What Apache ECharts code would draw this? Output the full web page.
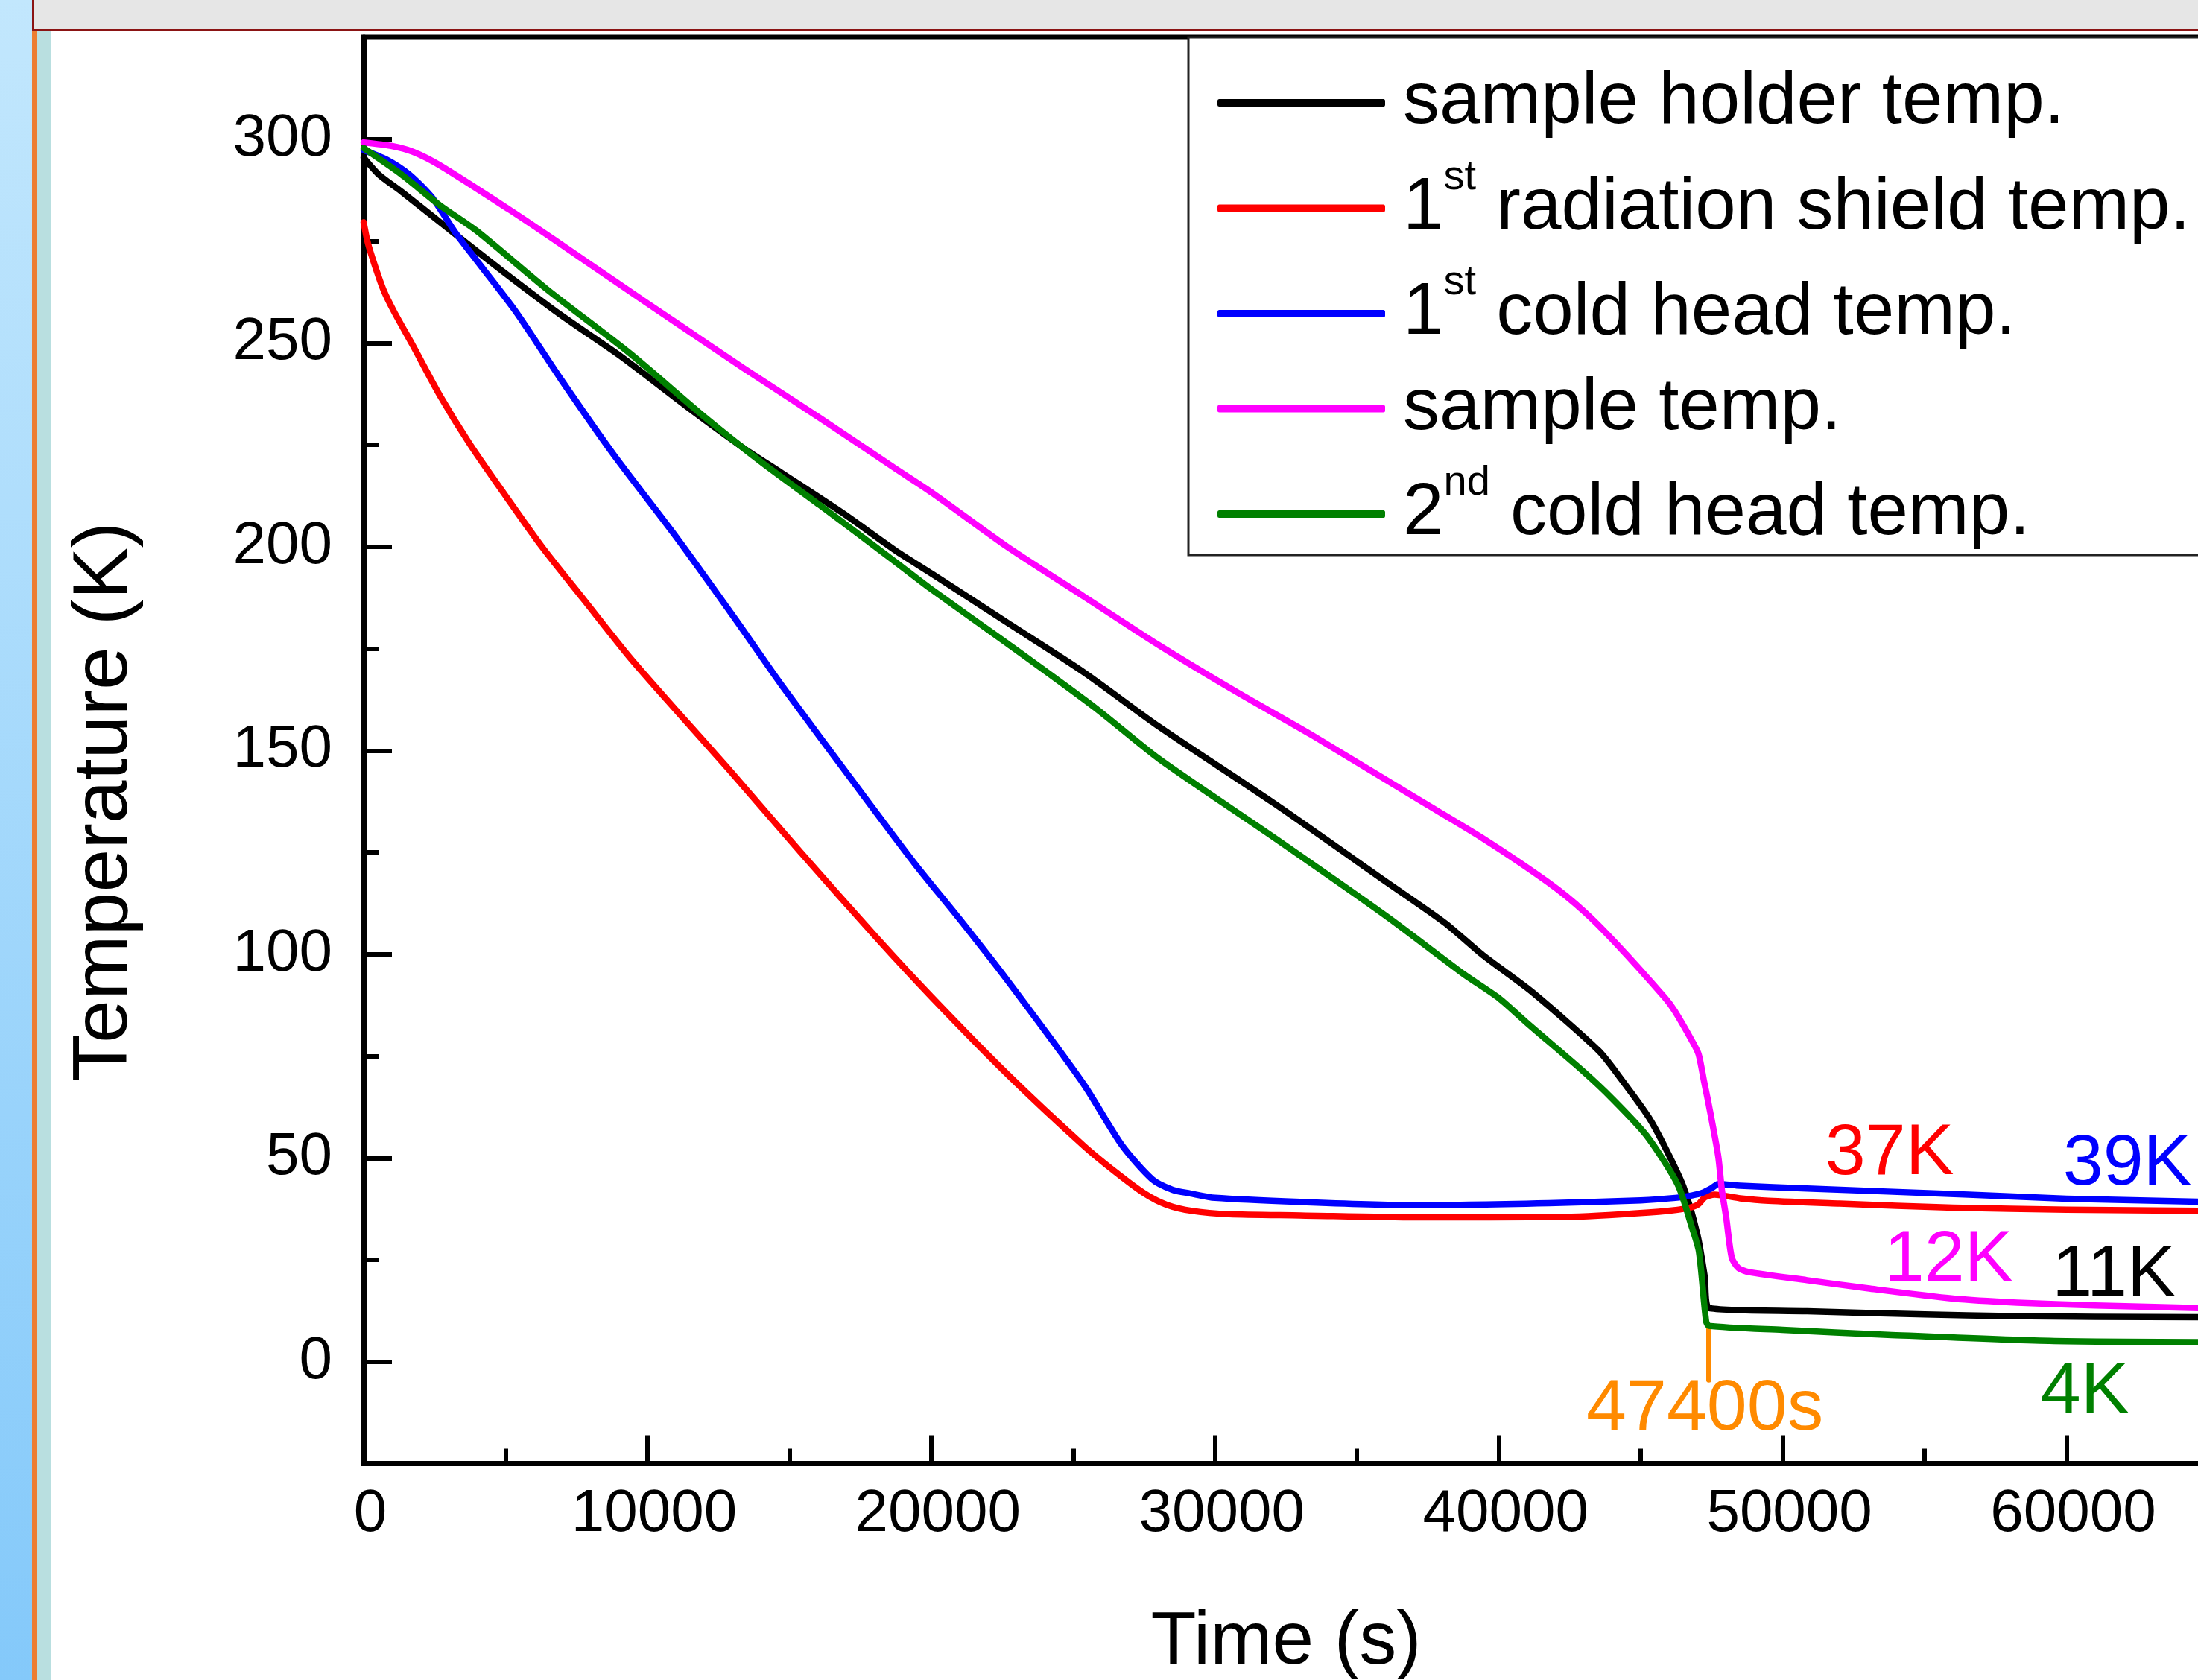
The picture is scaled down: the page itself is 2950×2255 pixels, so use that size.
<!DOCTYPE html>
<html>
<head>
<meta charset="utf-8">
<script src="https://cdn.jsdelivr.net/npm/echarts@6/dist/echarts.min.js"></script>
<style>
html,body{margin:0;padding:0;background:#ffffff;}
#chart{width:2950px;height:2255px;}
</style>
</head>
<body>
<div id="chart"></div>
<script>
const FONT = "'Liberation Sans', Arial, Helvetica, sans-serif";

// ---------- data ----------
const seriesNames = ['sample holder temp.', '1st radiation shield temp.', '1st cold head temp.', 'sample temp.', '2nd cold head temp.'];
const seriesColors = ['#000000', '#FF0000', '#0000FF', '#FF00FF', '#008000'];

const holderTime = [0, 536, 1340, 2950, 4820, 6960, 9100, 11380, 13390, 14730, 16870, 18750, 20013, 22690, 25370, 28050, 32060, 36080, 38090, 39430, 41175, 43519, 44315, 45277, 45900, 46500, 47000, 47250, 47400, 50859, 55000, 57970, 61000, 65000];
const holderTemp = [295.5, 291.3, 287.1, 278.2, 268, 256.8, 246.5, 234.4, 224.2, 218.1, 208.3, 199, 193.4, 181.3, 169.2, 155.7, 137.1, 117.5, 107.7, 99.8, 90.7, 76.3, 69.3, 60, 52, 43, 31, 21, 13.2, 12.4, 11.6, 11.2, 11.0, 10.9];

const shieldTime = [0, 150, 400, 700, 1070, 1740, 2680, 3750, 4950, 6290, 7770, 9370, 10980, 12850, 15400, 18080, 20013, 22690, 25370, 26500, 27510, 28300, 29200, 30500, 33000, 37073, 42323, 45277, 46591, 47000, 47269, 47600, 48500, 49500, 52000, 56000, 60000, 65000];
const shieldTemp = [279.6, 274.5, 268.9, 263.0, 257.7, 249.3, 237.2, 225.1, 213, 199.9, 186.9, 172.9, 160.1, 145.5, 125, 104, 89.5, 70.5, 53, 46.5, 41.3, 38.5, 37, 36.2, 35.9, 35.4, 35.5, 36.6, 37.6, 38.5, 40.4, 41, 40.1, 39.5, 38.8, 37.8, 37.3, 37];

const head1Time = [0, 800, 1610, 2410, 3210, 4020, 5360, 6960, 8840, 10980, 13120, 14730, 17410, 19420, 21000, 22690, 25370, 26710, 27780, 28500, 29120, 30000, 33000, 37073, 41761, 45000, 46215, 46800, 47152, 47500, 47729, 48500, 50859, 56549, 60000, 65000];
const head1Temp = [297.3, 295, 291.3, 285.7, 277.3, 269.9, 257.7, 241, 222.3, 202.7, 182, 166, 140.8, 122.2, 108.6, 93.5, 68.1, 53.2, 44.8, 42.2, 41.3, 40.2, 39.2, 38.4, 38.9, 39.6, 40.2, 40.8, 41.4, 42.6, 43.6, 43.2, 42.5, 41, 40, 39.2];

const sampleTime = [0, 1000, 1740, 2680, 5090, 6700, 8840, 11110, 13390, 16070, 18750, 20013, 22690, 25370, 28050, 30720, 33400, 37200, 39417, 41761, 43000, 44105, 45863, 46200, 46800, 47035, 47231, 47387, 47729, 47855, 48013, 48207, 48440, 48800, 50859, 53000, 56000, 58256, 61000, 65000];
const sampleTemp = [299.2, 298.3, 296.9, 293.6, 282.9, 275.4, 265.2, 254.5, 243.8, 231.6, 219.1, 213.3, 199.9, 187.8, 175.7, 164.5, 153.8, 137.8, 128.5, 117.5, 110.5, 102.8, 89.2, 86.0, 78.8, 75.5, 68.7, 63.4, 50.4, 42.2, 35.2, 25.5, 23, 22, 20, 18, 15.5, 14.5, 13.8, 13.1];

const head2Time = [0, 1340, 2680, 4020, 6430, 9370, 12050, 14060, 16070, 18750, 20013, 22690, 25770, 28050, 32060, 36080, 38760, 40003, 41010, 42933, 44000, 45200, 46300, 46800, 47050, 47300, 47400, 50000, 53704, 59393, 65000];
const head2Temp = [297.8, 291.3, 283.8, 277.3, 263.3, 247.5, 231.6, 220.5, 210.2, 196.2, 189.5, 176.2, 160.5, 147.8, 128.7, 109.1, 95.1, 89.2, 83.0, 71.5, 64.5, 55.5, 43.5, 33, 27, 10, 8.8, 7.8, 6.6, 5.1, 4.8];

const xTickLabels = [0, 10000, 20000, 30000, 40000, 50000, 60000];
const yTickLabels = [0, 50, 100, 150, 200, 250, 300];

// annotation texts (series index, text, time, temperature of label centre)
const annotations = [
  {s: 1, text: '37K', x: 53766, y: 50.9},
  {s: 2, text: '39K', x: 62139, y: 48.4},
  {s: 3, text: '12K', x: 55840, y: 24.7},
  {s: 0, text: '11K', x: 61667, y: 21.2},
  {s: 4, text: '4K', x: 60643, y: -7.6}
];
const switchTime = 47400;           // orange marker
const switchMarkerRange = [8.7, -4.5];
const switchLabel = {text: '47400s', x: 47257, y: -11.8};
const ORANGE = '#FF8A00';

// ---------- build ----------
const pairs = (t, k) => t.map((v, i) => [v, k[i]]);
const allData = [
  pairs(holderTime, holderTemp),
  pairs(shieldTime, shieldTemp),
  pairs(head1Time, head1Temp),
  pairs(sampleTime, sampleTemp),
  pairs(head2Time, head2Temp)
];

const series = allData.map((d, i) => {
  const s = {
    name: seriesNames[i],
    type: 'line',
    data: d,
    xAxisIndex: 0,
    yAxisIndex: 0,
    showSymbol: false,
    symbol: 'none',
    smooth: 0.25,
    color: seriesColors[i],
    lineStyle: {color: seriesColors[i], width: 8.5, cap: 'round', join: 'round'},
    z: 3 + i,
    silent: true
  };
  const ann = annotations.filter(a => a.s === i);
  const mpData = ann.map(a => ({
    coord: [a.x, a.y],
    label: {show: true, position: 'inside', formatter: a.text, color: seriesColors[i],
            fontSize: 97, fontFamily: FONT, textBorderWidth: 0}
  }));
  if (i === 4) {
    mpData.push({
      coord: [switchLabel.x, switchLabel.y],
      label: {show: true, position: 'inside', formatter: switchLabel.text, color: ORANGE,
              fontSize: 97, fontFamily: FONT, textBorderWidth: 0}
    });
    s.markLine = {
      silent: true,
      symbol: ['none', 'none'],
      label: {show: false},
      lineStyle: {color: ORANGE, width: 7, type: 'solid', cap: 'round'},
      data: [[{coord: [switchTime, switchMarkerRange[0]]}, {coord: [switchTime, switchMarkerRange[1]]}]]
    };
  }
  if (mpData.length) {
    s.markPoint = {
      silent: true,
      symbol: 'circle',
      symbolSize: 1,
      itemStyle: {color: 'rgba(0,0,0,0)'},
      data: mpData
    };
  }
  return s;
});

const plain = v => String(v);
const axisBase = {
  type: 'value',
  splitLine: {show: false},
  minorTick: {show: false}
};

const option = {
  animation: false,
  backgroundColor: '#ffffff',
  grid: {
    left: 488, top: 50, width: 2476, height: 1914.5,
    show: true, borderColor: '#000', borderWidth: 7, backgroundColor: 'transparent',
    containLabel: false,
    outerBoundsMode: 'none'
  },
  xAxis: [
    Object.assign({}, axisBase, {
      position: 'bottom', min: 0, max: 65000, interval: 5000,
      axisLine: {show: true, onZero: false, lineStyle: {color: '#000', width: 7}},
      axisTick: {show: true, inside: true, length: 20, lineStyle: {color: '#000', width: 6}},
      axisLabel: {show: true, customValues: xTickLabels, formatter: plain, fontSize: 80, fontFamily: FONT,
                  color: '#000', margin: 28, padding: [0, 0, 0, 18]},
      name: 'Time (s)', nameLocation: 'middle', nameGap: 191,
      nameTextStyle: {fontSize: 100, fontFamily: FONT, color: '#000'}
    }),
    Object.assign({}, axisBase, {
      position: 'bottom', min: 0, max: 65000, interval: 5000,
      axisLine: {show: false, onZero: false},
      axisTick: {show: true, inside: true, length: 38, customValues: xTickLabels, lineStyle: {color: '#000', width: 6}},
      axisLabel: {show: false}
    })
  ],
  yAxis: [
    Object.assign({}, axisBase, {
      position: 'left', min: -25, max: 325, interval: 25,
      axisLine: {show: true, onZero: false, lineStyle: {color: '#000', width: 7}},
      axisTick: {show: true, inside: true, length: 20, lineStyle: {color: '#000', width: 6}},
      axisLabel: {show: true, customValues: yTickLabels, formatter: plain, fontSize: 80, fontFamily: FONT,
                  color: '#000', margin: 42, padding: [0, 0, 6, 0]},
      name: 'Temperature (K)', nameLocation: 'middle', nameGap: 295,
      nameTextStyle: {fontSize: 104, fontFamily: FONT, color: '#000', padding: [0, 138, 0, 0]}
    }),
    Object.assign({}, axisBase, {
      position: 'left', min: -25, max: 325, interval: 25,
      axisLine: {show: false, onZero: false},
      axisTick: {show: true, inside: true, length: 38, customValues: yTickLabels, lineStyle: {color: '#000', width: 6}},
      axisLabel: {show: false}
    })
  ],
  legend: {
    show: true,
    data: seriesNames,
    orient: 'vertical',
    left: 1595, top: 50,
    padding: [33, 200, 0, 39],
    itemGap: 17.5,
    itemWidth: 225, itemHeight: 10,
    icon: 'roundRect',
    borderColor: '#222', borderWidth: 3, borderRadius: 0,
    backgroundColor: '#ffffff',
    selectedMode: false,
    formatter: name => name.replace(/^(\d)(st|nd)/, '$1{sup|$2}'),
    textStyle: {
      fontSize: 98, fontFamily: FONT, color: '#000', lineHeight: 110,
      padding: [0, 0, 0, 19],
      rich: {
        sup: {fontSize: 56, fontFamily: FONT, color: '#000', height: 28, verticalAlign: 'top'}
      }
    }
  },
  graphic: [
    {type: 'rect', silent: true, z: 100, shape: {x: 0, y: 0, width: 43, height: 2255},
     style: {fill: new echarts.graphic.LinearGradient(0, 0, 0, 1, [{offset: 0, color: '#C2E7FD'}, {offset: 1, color: '#84C9FA'}])}},
    {type: 'rect', silent: true, z: 100, shape: {x: 45, y: 0, width: 2905, height: 39}, style: {fill: '#E6E6E6'}},
    {type: 'rect', silent: true, z: 100, shape: {x: 43, y: 39, width: 2907, height: 3}, style: {fill: '#8B1414'}},
    {type: 'rect', silent: true, z: 100, shape: {x: 43, y: 0, width: 3, height: 42}, style: {fill: '#8B1414'}},
    {type: 'rect', silent: true, z: 100, shape: {x: 43, y: 42, width: 6, height: 2213}, style: {fill: '#ED7D31'}},
    {type: 'rect', silent: true, z: 100, shape: {x: 49, y: 42, width: 19, height: 2213}, style: {fill: '#B9DFE0'}}
  ],
  series: series
};

const chart = echarts.init(document.getElementById('chart'), null, {renderer: 'canvas', width: 2950, height: 2255});
chart.setOption(option);
</script>
</body>
</html>
